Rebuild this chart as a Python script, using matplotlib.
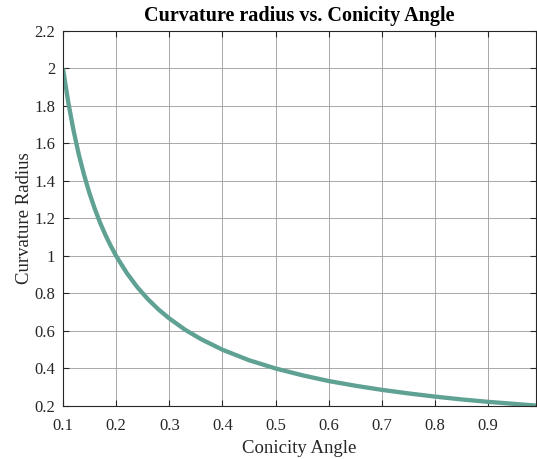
import numpy as np
import matplotlib.pyplot as plt

# values
angle = [0.10, 0.11, 0.12, 0.13, 0.14, 0.15, 0.16, 0.17, 0.18, 0.19, 0.20,
         0.22, 0.24, 0.26, 0.28, 0.30, 0.33, 0.36, 0.40, 0.45, 0.50, 0.55,
         0.60, 0.65, 0.70, 0.75, 0.80, 0.85, 0.90, 0.95, 0.99]
radius = [2.000, 1.818, 1.667, 1.538, 1.429, 1.333, 1.250, 1.176, 1.111, 1.053, 1.000,
          0.909, 0.833, 0.769, 0.714, 0.667, 0.606, 0.556, 0.500, 0.444, 0.400, 0.364,
          0.333, 0.308, 0.286, 0.267, 0.250, 0.235, 0.222, 0.211, 0.202]

plt.rcParams['font.family'] = ['Liberation Serif', 'DejaVu Serif']

fig = plt.figure(figsize=(5.37, 4.59), dpi=100)
ax = fig.add_axes([0.1173, 0.1155, 0.8810, 0.8170])

ax.plot(angle, radius, color='#5fa193', linewidth=3.1, solid_capstyle='butt')

ax.set_xlim(0.1, 0.99)
ax.set_ylim(0.2, 2.2)
ax.set_xticks(np.arange(0.1, 0.95, 0.1))
ax.set_xticklabels(['0.1', '0.2', '0.3', '0.4', '0.5', '0.6', '0.7', '0.8', '0.9'])
ax.set_yticks(np.arange(0.2, 2.25, 0.2))
ax.set_yticklabels(['0.2', '0.4', '0.6', '0.8', '1', '1.2', '1.4', '1.6', '1.8', '2', '2.2'])
ax.tick_params(direction='in', top=True, right=True, labelsize=12, length=4,
               width=0.8, colors='#262626')
ax.tick_params(axis='x', pad=9)
ax.tick_params(axis='y', pad=5.5)
ax.grid(True, color='#9a9a9a', linewidth=0.6)
for s in ax.spines.values():
    s.set_color('#262626')
    s.set_linewidth(0.8)

ax.set_xlabel('Conicity Angle', fontsize=13.5, color='#262626', labelpad=4)
ax.set_ylabel('Curvature Radius', fontsize=13.5, color='#262626', labelpad=1)
ax.set_title('Curvature radius vs. Conicity Angle', fontsize=14.5, fontweight='bold', pad=7)

fig.savefig('out.png', dpi=100)
